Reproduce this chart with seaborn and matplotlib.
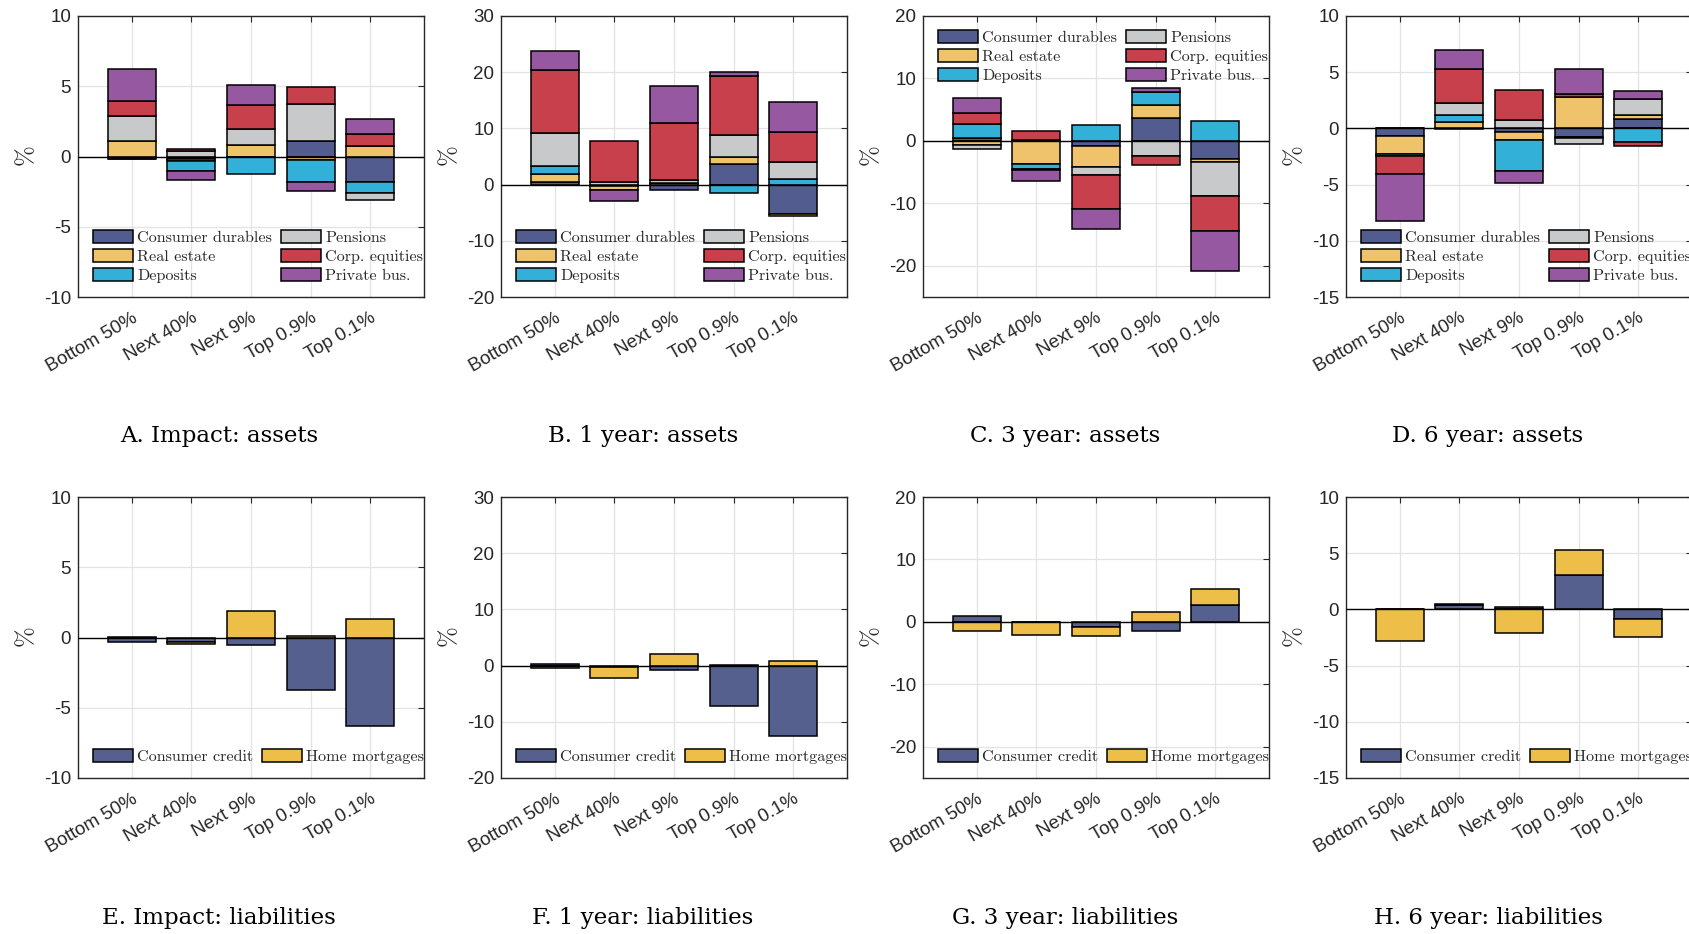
import numpy as np
import matplotlib
matplotlib.use('Agg')
import matplotlib.pyplot as plt
from matplotlib.font_manager import FontProperties
import seaborn as sns

# --- data (percent), one list per component, ordered like the groups ---
groups = ['Bottom 50%', 'Next 40%', 'Next 9%', 'Top 0.9%', 'Top 0.1%']

asset_names = ['Consumer durables', 'Real estate', 'Deposits',
               'Pensions', 'Corp. equities', 'Private bus.']
asset_colors = ['#535c8f', '#efc36b', '#33b0d8', '#c8c9cb', '#c8404c', '#9659a1']
liab_names = ['Consumer credit', 'Home mortgages']
liab_colors = ['#56608f', '#eebf48']

# A. Impact: assets
a_durables = [-0.15, -0.15, 0.0, 1.12, -1.83]
a_realestate = [1.09, -0.15, 0.81, -0.24, 0.74]
a_deposits = [-0.05, -0.75, -1.24, -1.57, -0.76]
a_pensions = [1.76, 0.4, 1.16, 2.61, -0.54]
a_equities = [1.09, 0.15, 1.73, 1.23, 0.88]
a_privbus = [2.3, -0.6, 1.4, -0.64, 1.02]

# B. 1 year: assets
b_durables = [0.47, -0.2, -1.0, 3.74, -5.16]
b_realestate = [1.37, -0.7, 0.35, 1.24, -0.36]
b_deposits = [1.48, 0.0, 0.0, -1.48, 1.07]
b_pensions = [5.88, 0.5, 0.5, 3.86, 2.91]
b_equities = [11.2, 7.27, 10.15, 10.56, 5.4]
b_privbus = [3.4, -1.95, 6.6, 0.65, 5.28]

# C. 3 year: assets
c_durables = [0.53, 0.2, -0.85, 3.73, -2.93]
c_realestate = [-0.59, -3.68, -3.31, 2.08, -0.43]
c_deposits = [2.19, -0.75, 2.6, 2.03, 3.2]
c_pensions = [-0.64, -0.2, -1.33, -2.35, -5.44]
c_equities = [1.76, 1.4, -5.39, -1.54, -5.65]
c_privbus = [2.35, -1.77, -3.2, 0.69, -6.45]

# D. 6 year: assets
d_durables = [-0.71, -0.05, -0.3, -0.8, 0.8]
d_realestate = [-1.6, 0.59, -0.74, 2.82, 0.39]
d_deposits = [-0.18, 0.57, -2.76, -0.08, -1.22]
d_pensions = [0.0, 1.07, 0.71, -0.5, 1.45]
d_equities = [-1.6, 3.08, 2.73, 0.27, -0.38]
d_privbus = [-4.15, 1.69, -1.04, 2.16, 0.71]

# E-H. liabilities
e_credit = [-0.3, -0.3, -0.5, -3.75, -6.3]
e_mortgage = [0.05, -0.15, 1.9, 0.1, 1.3]
f_credit = [0.2, -0.3, -0.77, -7.1, -12.6]
f_mortgage = [-0.4, -1.83, 2.0, 0.05, 0.83]
g_credit = [0.9, 0.0, -0.74, -1.4, 2.77]
g_mortgage = [-1.44, -2.02, -1.44, 1.6, 2.45]
h_credit = [0.05, 0.35, 0.25, 3.08, -0.86]
h_mortgage = [-2.84, 0.12, -2.13, 2.19, -1.63]

titles_top = ['A. Impact: assets', 'B. 1 year: assets', 'C. 3 year: assets', 'D. 6 year: assets']
titles_bot = ['E. Impact: liabilities', 'F. 1 year: liabilities',
              'G. 3 year: liabilities', 'H. 6 year: liabilities']
ylims = [(-10, 10, 5), (-20, 30, 10), (-25, 20, 10), (-15, 10, 5)]

asset_panels = [
    [a_durables, a_realestate, a_deposits, a_pensions, a_equities, a_privbus],
    [b_durables, b_realestate, b_deposits, b_pensions, b_equities, b_privbus],
    [c_durables, c_realestate, c_deposits, c_pensions, c_equities, c_privbus],
    [d_durables, d_realestate, d_deposits, d_pensions, d_equities, d_privbus],
]
liab_panels = [
    [e_credit, e_mortgage], [f_credit, f_mortgage],
    [g_credit, g_mortgage], [h_credit, h_mortgage],
]

sns.set_style('white')
plt.rcParams['font.family'] = ['Liberation Sans', 'DejaVu Sans']
plt.rcParams['axes.unicode_minus'] = False
plt.rcParams['mathtext.fontset'] = 'cm'

W, H = 1690, 934
fig = plt.figure(figsize=(W / 100, H / 100), dpi=100)

col_left = [78, 501, 923, 1346]
ax_w = 346
row_top = [16, 497]
ax_h = 281
title_x = [219, 643, 1065, 1488]
title_y = [436, 918]
legend_prop = FontProperties(family=['cmr10', 'DejaVu Serif'], size=11.6)


def stacked(ax, comps, names, colors):
    x = np.arange(1, len(groups) + 1)
    pos = np.zeros(len(groups))
    neg = np.zeros(len(groups))
    for vals, name, col in zip(comps, names, colors):
        v = np.array(vals, dtype=float)
        bottom = np.where(v >= 0, pos, neg)
        ax.bar(x, v, width=0.8, bottom=bottom, color=col, edgecolor='black',
               linewidth=1.1, label=name, zorder=3)
        pos = pos + np.where(v >= 0, v, 0)
        neg = neg + np.where(v < 0, v, 0)
    ax.axhline(0, color='black', linewidth=1.0, zorder=4)


def style(ax, lim):
    lo, hi, step = lim
    ax.set_xlim(0.1, 5.9)
    ax.set_ylim(lo, hi)
    ticks = np.arange(np.ceil(lo / step) * step, hi + 0.01, step)
    ax.set_yticks(ticks)
    ax.set_yticklabels([f'{t:g}' for t in ticks])
    ax.set_xticks(np.arange(1, 6))
    ax.set_xticklabels(groups, rotation=30, ha='right', rotation_mode='anchor')
    ax.tick_params(direction='in', length=4, width=0.8, colors='#262626',
                   labelsize=13.5, top=True, right=True, pad=5)
    ax.tick_params(axis='x', pad=9)
    ax.grid(True, color='#e3e3e3', linewidth=0.9)
    ax.set_axisbelow(True)
    for sp in ax.spines.values():
        sp.set_color('#262626')
        sp.set_linewidth(1.0)
    ax.set_ylabel(r'$\%$', fontsize=18, color='#262626', labelpad=4)


leg_kw = dict(ncol=2, frameon=False, prop=legend_prop, handlelength=2.5,
              handleheight=0.85, handletextpad=0.25, columnspacing=0.55,
              labelspacing=0.25, borderpad=0, borderaxespad=0)

for r, (panels, names, colors, titles) in enumerate([
        (asset_panels, asset_names, asset_colors, titles_top),
        (liab_panels, liab_names, liab_colors, titles_bot)]):
    for c in range(4):
        rect = [col_left[c] / W, 1 - (row_top[r] + ax_h) / H, ax_w / W, ax_h / H]
        ax = fig.add_axes(rect)
        stacked(ax, panels[c], names, colors)
        style(ax, ylims[c])
        if r == 0 and c == 2:
            leg = ax.legend(loc='upper left', bbox_to_anchor=(0.043, 0.95), **leg_kw)
        else:
            leg = ax.legend(loc='lower left', bbox_to_anchor=(0.043, 0.05), **leg_kw)
        for h in leg.legend_handles:
            h.set_linewidth(1.1)
        fig.text(title_x[c] / W, 1 - title_y[r] / H, titles[c], ha='center', va='center',
                 fontsize=16.5, family=['DejaVu Serif'], color='black')

fig.savefig('out.png', dpi=100)
